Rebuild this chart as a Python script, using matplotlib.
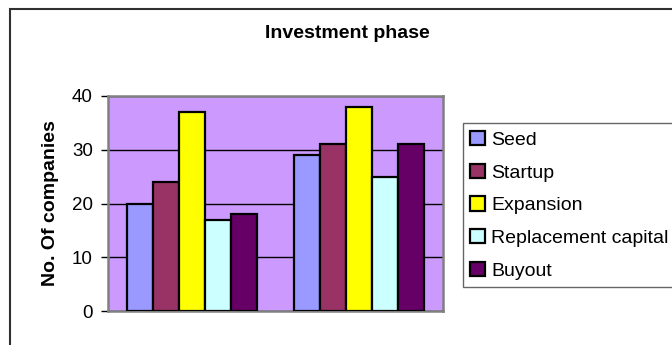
import matplotlib
matplotlib.use('Agg')
import matplotlib.pyplot as plt
import numpy as np
from matplotlib.patches import Rectangle

plt.rcParams['font.family'] = ['Liberation Sans', 'DejaVu Sans']

groups = ['Group 1', 'Group 2']
phases = ['Seed', 'Startup', 'Expansion', 'Replacement capital', 'Buyout']
counts = {
    'Seed': [20, 29],
    'Startup': [24, 31],
    'Expansion': [37, 38],
    'Replacement capital': [17, 25],
    'Buyout': [18, 31],
}
colors = ['#9999FF', '#993366', '#FFFF00', '#CCFFFF', '#660066']

W, H = 672, 345
fig = plt.figure(figsize=(W / 100, H / 100), dpi=100)
fig.patch.set_facecolor('white')

# outer chart frame, running off the right and bottom edges
fig.patches.append(Rectangle((9.5 / W, -0.1), 1.2, 1.1 - 9 / H,
                             transform=fig.transFigure, fill=False,
                             edgecolor='#303030', linewidth=1.5))

ax = fig.add_axes([108 / W, 34 / H, (443 - 108) / W, (311 - 96) / H])
ax.set_facecolor('#CC99FF')

x = np.arange(len(groups))
width = 0.155
for i, (phase, color) in enumerate(zip(phases, colors)):
    ax.bar(x + (i - 2) * width, counts[phase], width, color=color,
           edgecolor='black', linewidth=1.6, label=phase, zorder=3)

ax.set_xlim(-0.5, 1.5)
ax.set_ylim(0, 40)
ax.set_yticks([0, 10, 20, 30, 40])
ax.set_xticks([])
ax.yaxis.grid(True, color='black', linewidth=1)
ax.set_axisbelow(True)
for s in ax.spines.values():
    s.set_color('#808080')
    s.set_linewidth(1.8)
ax.tick_params(axis='y', direction='out', length=5, width=1, color='black',
               labelsize=13.5, pad=6)

ax.set_ylabel('No. Of companies', fontsize=14, fontweight='bold', labelpad=9)
fig.text(347.7 / W, 1 - 33.5 / H, 'Investment phase', ha='center',
         va='center', fontsize=14, fontweight='bold')

leg = fig.legend(loc='upper left', bbox_to_anchor=(462.7 / W, 1 - 123.3 / H),
                 fontsize=14, frameon=True, fancybox=False, borderpad=0.4,
                 borderaxespad=0, handlelength=0.75, handleheight=0.75,
                 handletextpad=0.3, labelspacing=0.76)
leg.get_frame().set_edgecolor('#404040')
leg.get_frame().set_linewidth(1)

fig.savefig('out.png', dpi=100)
